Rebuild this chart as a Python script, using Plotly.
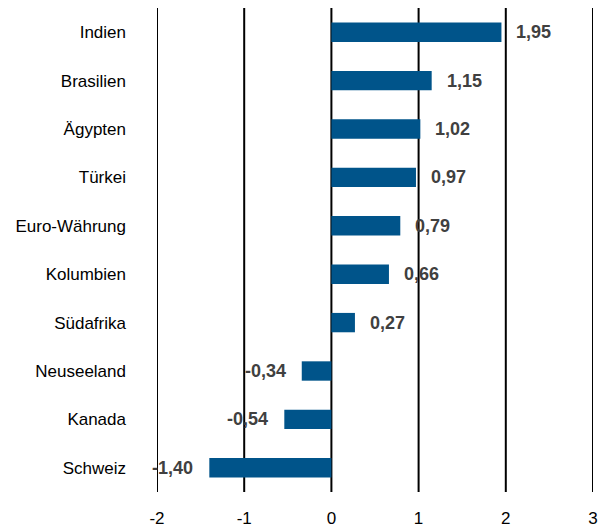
import plotly.graph_objects as go

categories = ["Indien", "Brasilien", "Ägypten", "Türkei", "Euro-Währung",
              "Kolumbien", "Südafrika", "Neuseeland", "Kanada", "Schweiz"]
values = [1.95, 1.15, 1.02, 0.97, 0.79, 0.66, 0.27, -0.34, -0.54, -1.40]
x_ticks = [-2, -1, 0, 1, 2, 3]

FONT = "Liberation Sans Narrow, Arial Narrow, Liberation Sans, sans-serif"

fig = go.Figure()
fig.add_trace(go.Bar(
    y=categories, x=values, orientation="h",
    marker=dict(color="#00548A", line=dict(width=0)),
    width=0.4, hoverinfo="skip",
))

for c, v in zip(categories, values):
    lab = f"{v:.2f}".replace(".", ",")
    fig.add_annotation(
        x=v, y=c, text=f"<b>{lab}</b>", showarrow=False,
        xanchor="left" if v >= 0 else "right",
        xshift=13 if v >= 0 else -14,
        font=dict(family=FONT, size=18, color="#404040"),
    )

for t in x_ticks:
    fig.add_shape(type="line", x0=t, x1=t, y0=0, y1=1, yref="paper",
                  line=dict(color="black", width=2), layer="below")

# page body adds an 8px offset; compensate so the plot area lands at 157..593 x 8..492
fig.update_layout(
    width=605, height=519,
    margin=dict(l=149, r=20, t=0, b=35),
    plot_bgcolor="white", paper_bgcolor="white",
    showlegend=False,
    font=dict(family=FONT, size=16, color="black"),
    xaxis=dict(range=[-2, 3], tickvals=x_ticks, ticktext=[str(t) for t in x_ticks],
               showgrid=False, zeroline=False, showline=False, ticks="",
               automargin=False,
               ticklabelstandoff=14, tickfont=dict(size=17, family=FONT)),
    yaxis=dict(categoryorder="array", categoryarray=categories[::-1],
               showgrid=False, zeroline=False, showline=False, ticks="",
               automargin=False,
               ticklabelstandoff=30, tickfont=dict(size=17, family=FONT)),
)

fig.write_html("out.html")
